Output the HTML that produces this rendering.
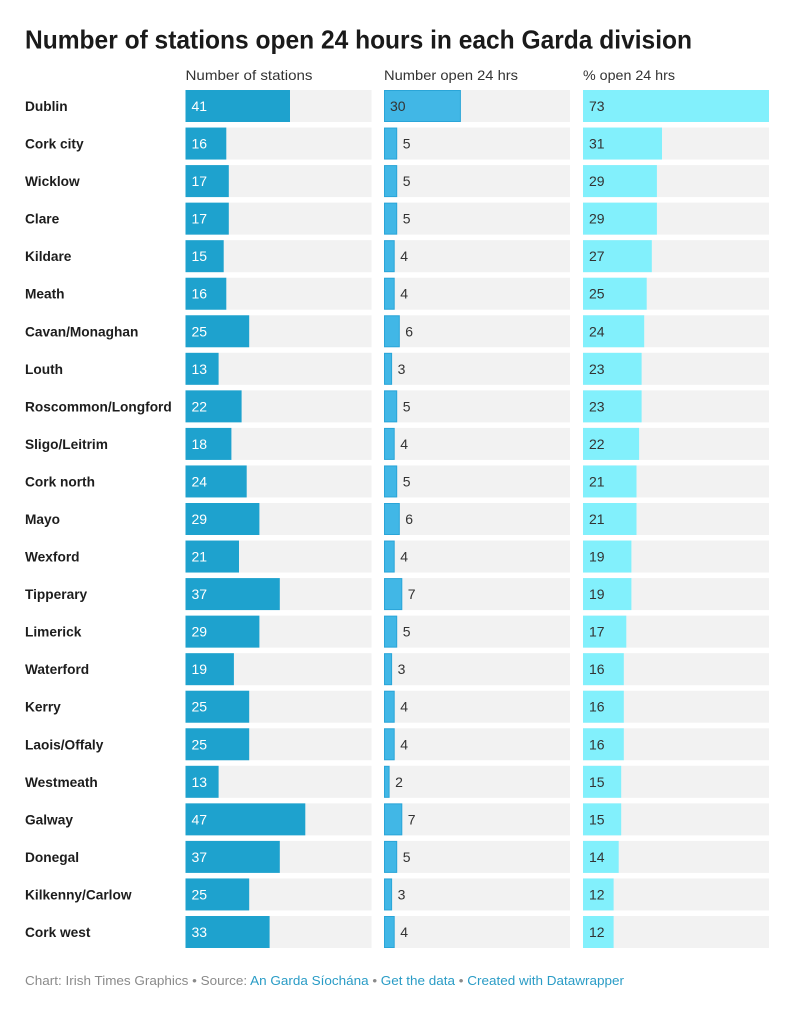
<!DOCTYPE html>
<html><head><meta charset="utf-8"><style>
html,body{margin:0;padding:0;background:#fff;}
svg{display:block;font-family:"Liberation Sans",Arial,sans-serif;}
.lab{font-size:13.7px;font-weight:bold;fill:#1d1d1d;}
.hd{font-size:14px;fill:#333;}
.v1{font-size:14px;fill:#fff;}
.v2{font-size:14px;fill:#333;}
.bg{fill:#f2f2f2;}
.b1{fill:#1ea2ce;}
.b2{fill:#41b7e6;stroke:#2aa5d8;stroke-width:1;}
.b3{fill:#82f0fc;}
</style></head><body>
<svg width="800" height="1013" viewBox="0 0 800 1013" xmlns="http://www.w3.org/2000/svg">
<text x="25" y="48.5" font-size="26" font-weight="bold" fill="#1a1a1a" textLength="667" lengthAdjust="spacingAndGlyphs">Number of stations open 24 hours in each Garda division</text>
<text class="hd" x="185.5" y="80" textLength="127" lengthAdjust="spacingAndGlyphs">Number of stations</text>
<text class="hd" x="384" y="80" textLength="134" lengthAdjust="spacingAndGlyphs">Number open 24 hrs</text>
<text class="hd" x="583" y="80" textLength="92" lengthAdjust="spacingAndGlyphs">% open 24 hrs</text>

<g transform="translate(0,90)"><text class="lab" x="25" y="21">Dublin</text>
<rect class="bg" x="185.5" width="186" height="32"/><rect class="b1" x="185.5" width="104.5" height="32"/><text class="v1" x="191.5" y="21">41</text>
<rect class="bg" x="384" width="186" height="32"/><rect class="b2" x="384.5" y="0.5" width="75.9" height="31"/><text class="v2" x="390" y="21">30</text>
<rect class="bg" x="583" width="186" height="32"/><rect class="b3" x="583" width="186" height="32"/><text class="v2" x="589" y="21">73</text></g>

<g transform="translate(0,127.55)"><text class="lab" x="25" y="21">Cork city</text>
<rect class="bg" x="185.5" width="186" height="32"/><rect class="b1" x="185.5" width="40.8" height="32"/><text class="v1" x="191.5" y="21">16</text>
<rect class="bg" x="384" width="186" height="32"/><rect class="b2" x="384.5" y="0.5" width="12.2" height="31"/><text class="v2" x="402.7" y="21">5</text>
<rect class="bg" x="583" width="186" height="32"/><rect class="b3" x="583" width="79" height="32"/><text class="v2" x="589" y="21">31</text></g>

<g transform="translate(0,165.09)"><text class="lab" x="25" y="21">Wicklow</text>
<rect class="bg" x="185.5" width="186" height="32"/><rect class="b1" x="185.5" width="43.3" height="32"/><text class="v1" x="191.5" y="21">17</text>
<rect class="bg" x="384" width="186" height="32"/><rect class="b2" x="384.5" y="0.5" width="12.2" height="31"/><text class="v2" x="402.7" y="21">5</text>
<rect class="bg" x="583" width="186" height="32"/><rect class="b3" x="583" width="73.9" height="32"/><text class="v2" x="589" y="21">29</text></g>

<g transform="translate(0,202.64)"><text class="lab" x="25" y="21">Clare</text>
<rect class="bg" x="185.5" width="186" height="32"/><rect class="b1" x="185.5" width="43.3" height="32"/><text class="v1" x="191.5" y="21">17</text>
<rect class="bg" x="384" width="186" height="32"/><rect class="b2" x="384.5" y="0.5" width="12.2" height="31"/><text class="v2" x="402.7" y="21">5</text>
<rect class="bg" x="583" width="186" height="32"/><rect class="b3" x="583" width="73.9" height="32"/><text class="v2" x="589" y="21">29</text></g>

<g transform="translate(0,240.18)"><text class="lab" x="25" y="21">Kildare</text>
<rect class="bg" x="185.5" width="186" height="32"/><rect class="b1" x="185.5" width="38.2" height="32"/><text class="v1" x="191.5" y="21">15</text>
<rect class="bg" x="384" width="186" height="32"/><rect class="b2" x="384.5" y="0.5" width="9.7" height="31"/><text class="v2" x="400.2" y="21">4</text>
<rect class="bg" x="583" width="186" height="32"/><rect class="b3" x="583" width="68.8" height="32"/><text class="v2" x="589" y="21">27</text></g>

<g transform="translate(0,277.73)"><text class="lab" x="25" y="21">Meath</text>
<rect class="bg" x="185.5" width="186" height="32"/><rect class="b1" x="185.5" width="40.8" height="32"/><text class="v1" x="191.5" y="21">16</text>
<rect class="bg" x="384" width="186" height="32"/><rect class="b2" x="384.5" y="0.5" width="9.7" height="31"/><text class="v2" x="400.2" y="21">4</text>
<rect class="bg" x="583" width="186" height="32"/><rect class="b3" x="583" width="63.7" height="32"/><text class="v2" x="589" y="21">25</text></g>

<g transform="translate(0,315.27)"><text class="lab" x="25" y="21">Cavan/Monaghan</text>
<rect class="bg" x="185.5" width="186" height="32"/><rect class="b1" x="185.5" width="63.7" height="32"/><text class="v1" x="191.5" y="21">25</text>
<rect class="bg" x="384" width="186" height="32"/><rect class="b2" x="384.5" y="0.5" width="14.8" height="31"/><text class="v2" x="405.3" y="21">6</text>
<rect class="bg" x="583" width="186" height="32"/><rect class="b3" x="583" width="61.2" height="32"/><text class="v2" x="589" y="21">24</text></g>

<g transform="translate(0,352.82)"><text class="lab" x="25" y="21">Louth</text>
<rect class="bg" x="185.5" width="186" height="32"/><rect class="b1" x="185.5" width="33.1" height="32"/><text class="v1" x="191.5" y="21">13</text>
<rect class="bg" x="384" width="186" height="32"/><rect class="b2" x="384.5" y="0.5" width="7.1" height="31"/><text class="v2" x="397.6" y="21">3</text>
<rect class="bg" x="583" width="186" height="32"/><rect class="b3" x="583" width="58.6" height="32"/><text class="v2" x="589" y="21">23</text></g>

<g transform="translate(0,390.36)"><text class="lab" x="25" y="21">Roscommon/Longford</text>
<rect class="bg" x="185.5" width="186" height="32"/><rect class="b1" x="185.5" width="56.1" height="32"/><text class="v1" x="191.5" y="21">22</text>
<rect class="bg" x="384" width="186" height="32"/><rect class="b2" x="384.5" y="0.5" width="12.2" height="31"/><text class="v2" x="402.7" y="21">5</text>
<rect class="bg" x="583" width="186" height="32"/><rect class="b3" x="583" width="58.6" height="32"/><text class="v2" x="589" y="21">23</text></g>

<g transform="translate(0,427.91)"><text class="lab" x="25" y="21">Sligo/Leitrim</text>
<rect class="bg" x="185.5" width="186" height="32"/><rect class="b1" x="185.5" width="45.9" height="32"/><text class="v1" x="191.5" y="21">18</text>
<rect class="bg" x="384" width="186" height="32"/><rect class="b2" x="384.5" y="0.5" width="9.7" height="31"/><text class="v2" x="400.2" y="21">4</text>
<rect class="bg" x="583" width="186" height="32"/><rect class="b3" x="583" width="56.1" height="32"/><text class="v2" x="589" y="21">22</text></g>

<g transform="translate(0,465.45)"><text class="lab" x="25" y="21">Cork north</text>
<rect class="bg" x="185.5" width="186" height="32"/><rect class="b1" x="185.5" width="61.2" height="32"/><text class="v1" x="191.5" y="21">24</text>
<rect class="bg" x="384" width="186" height="32"/><rect class="b2" x="384.5" y="0.5" width="12.2" height="31"/><text class="v2" x="402.7" y="21">5</text>
<rect class="bg" x="583" width="186" height="32"/><rect class="b3" x="583" width="53.5" height="32"/><text class="v2" x="589" y="21">21</text></g>

<g transform="translate(0,503)"><text class="lab" x="25" y="21">Mayo</text>
<rect class="bg" x="185.5" width="186" height="32"/><rect class="b1" x="185.5" width="73.9" height="32"/><text class="v1" x="191.5" y="21">29</text>
<rect class="bg" x="384" width="186" height="32"/><rect class="b2" x="384.5" y="0.5" width="14.8" height="31"/><text class="v2" x="405.3" y="21">6</text>
<rect class="bg" x="583" width="186" height="32"/><rect class="b3" x="583" width="53.5" height="32"/><text class="v2" x="589" y="21">21</text></g>

<g transform="translate(0,540.54)"><text class="lab" x="25" y="21">Wexford</text>
<rect class="bg" x="185.5" width="186" height="32"/><rect class="b1" x="185.5" width="53.5" height="32"/><text class="v1" x="191.5" y="21">21</text>
<rect class="bg" x="384" width="186" height="32"/><rect class="b2" x="384.5" y="0.5" width="9.7" height="31"/><text class="v2" x="400.2" y="21">4</text>
<rect class="bg" x="583" width="186" height="32"/><rect class="b3" x="583" width="48.4" height="32"/><text class="v2" x="589" y="21">19</text></g>

<g transform="translate(0,578.09)"><text class="lab" x="25" y="21">Tipperary</text>
<rect class="bg" x="185.5" width="186" height="32"/><rect class="b1" x="185.5" width="94.3" height="32"/><text class="v1" x="191.5" y="21">37</text>
<rect class="bg" x="384" width="186" height="32"/><rect class="b2" x="384.5" y="0.5" width="17.3" height="31"/><text class="v2" x="407.8" y="21">7</text>
<rect class="bg" x="583" width="186" height="32"/><rect class="b3" x="583" width="48.4" height="32"/><text class="v2" x="589" y="21">19</text></g>

<g transform="translate(0,615.63)"><text class="lab" x="25" y="21">Limerick</text>
<rect class="bg" x="185.5" width="186" height="32"/><rect class="b1" x="185.5" width="73.9" height="32"/><text class="v1" x="191.5" y="21">29</text>
<rect class="bg" x="384" width="186" height="32"/><rect class="b2" x="384.5" y="0.5" width="12.2" height="31"/><text class="v2" x="402.7" y="21">5</text>
<rect class="bg" x="583" width="186" height="32"/><rect class="b3" x="583" width="43.3" height="32"/><text class="v2" x="589" y="21">17</text></g>

<g transform="translate(0,653.18)"><text class="lab" x="25" y="21">Waterford</text>
<rect class="bg" x="185.5" width="186" height="32"/><rect class="b1" x="185.5" width="48.4" height="32"/><text class="v1" x="191.5" y="21">19</text>
<rect class="bg" x="384" width="186" height="32"/><rect class="b2" x="384.5" y="0.5" width="7.1" height="31"/><text class="v2" x="397.6" y="21">3</text>
<rect class="bg" x="583" width="186" height="32"/><rect class="b3" x="583" width="40.8" height="32"/><text class="v2" x="589" y="21">16</text></g>

<g transform="translate(0,690.72)"><text class="lab" x="25" y="21">Kerry</text>
<rect class="bg" x="185.5" width="186" height="32"/><rect class="b1" x="185.5" width="63.7" height="32"/><text class="v1" x="191.5" y="21">25</text>
<rect class="bg" x="384" width="186" height="32"/><rect class="b2" x="384.5" y="0.5" width="9.7" height="31"/><text class="v2" x="400.2" y="21">4</text>
<rect class="bg" x="583" width="186" height="32"/><rect class="b3" x="583" width="40.8" height="32"/><text class="v2" x="589" y="21">16</text></g>

<g transform="translate(0,728.27)"><text class="lab" x="25" y="21">Laois/Offaly</text>
<rect class="bg" x="185.5" width="186" height="32"/><rect class="b1" x="185.5" width="63.7" height="32"/><text class="v1" x="191.5" y="21">25</text>
<rect class="bg" x="384" width="186" height="32"/><rect class="b2" x="384.5" y="0.5" width="9.7" height="31"/><text class="v2" x="400.2" y="21">4</text>
<rect class="bg" x="583" width="186" height="32"/><rect class="b3" x="583" width="40.8" height="32"/><text class="v2" x="589" y="21">16</text></g>

<g transform="translate(0,765.81)"><text class="lab" x="25" y="21">Westmeath</text>
<rect class="bg" x="185.5" width="186" height="32"/><rect class="b1" x="185.5" width="33.1" height="32"/><text class="v1" x="191.5" y="21">13</text>
<rect class="bg" x="384" width="186" height="32"/><rect class="b2" x="384.5" y="0.5" width="4.6" height="31"/><text class="v2" x="395.1" y="21">2</text>
<rect class="bg" x="583" width="186" height="32"/><rect class="b3" x="583" width="38.2" height="32"/><text class="v2" x="589" y="21">15</text></g>

<g transform="translate(0,803.36)"><text class="lab" x="25" y="21">Galway</text>
<rect class="bg" x="185.5" width="186" height="32"/><rect class="b1" x="185.5" width="119.8" height="32"/><text class="v1" x="191.5" y="21">47</text>
<rect class="bg" x="384" width="186" height="32"/><rect class="b2" x="384.5" y="0.5" width="17.3" height="31"/><text class="v2" x="407.8" y="21">7</text>
<rect class="bg" x="583" width="186" height="32"/><rect class="b3" x="583" width="38.2" height="32"/><text class="v2" x="589" y="21">15</text></g>

<g transform="translate(0,840.9)"><text class="lab" x="25" y="21">Donegal</text>
<rect class="bg" x="185.5" width="186" height="32"/><rect class="b1" x="185.5" width="94.3" height="32"/><text class="v1" x="191.5" y="21">37</text>
<rect class="bg" x="384" width="186" height="32"/><rect class="b2" x="384.5" y="0.5" width="12.2" height="31"/><text class="v2" x="402.7" y="21">5</text>
<rect class="bg" x="583" width="186" height="32"/><rect class="b3" x="583" width="35.7" height="32"/><text class="v2" x="589" y="21">14</text></g>

<g transform="translate(0,878.45)"><text class="lab" x="25" y="21">Kilkenny/Carlow</text>
<rect class="bg" x="185.5" width="186" height="32"/><rect class="b1" x="185.5" width="63.7" height="32"/><text class="v1" x="191.5" y="21">25</text>
<rect class="bg" x="384" width="186" height="32"/><rect class="b2" x="384.5" y="0.5" width="7.1" height="31"/><text class="v2" x="397.6" y="21">3</text>
<rect class="bg" x="583" width="186" height="32"/><rect class="b3" x="583" width="30.6" height="32"/><text class="v2" x="589" y="21">12</text></g>

<g transform="translate(0,916)"><text class="lab" x="25" y="21">Cork west</text>
<rect class="bg" x="185.5" width="186" height="32"/><rect class="b1" x="185.5" width="84.1" height="32"/><text class="v1" x="191.5" y="21">33</text>
<rect class="bg" x="384" width="186" height="32"/><rect class="b2" x="384.5" y="0.5" width="9.7" height="31"/><text class="v2" x="400.2" y="21">4</text>
<rect class="bg" x="583" width="186" height="32"/><rect class="b3" x="583" width="30.6" height="32"/><text class="v2" x="589" y="21">12</text></g>

<text x="25" y="985" font-size="13" fill="#8a8a8a" textLength="599" lengthAdjust="spacingAndGlyphs">Chart: Irish Times Graphics • Source: <tspan fill="#2a9cc6">An Garda Síochána</tspan> • <tspan fill="#2a9cc6">Get the data</tspan> • <tspan fill="#2a9cc6">Created with Datawrapper</tspan></text>
</svg>
</body></html>
